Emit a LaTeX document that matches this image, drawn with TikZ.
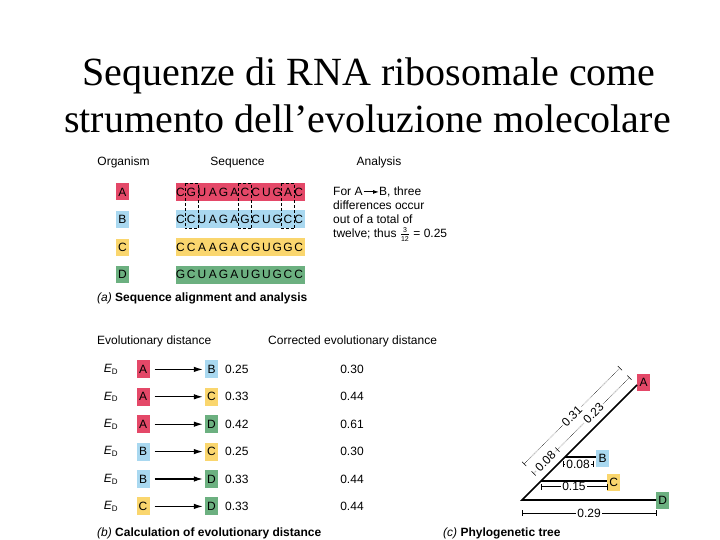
\documentclass[tikz,border=0pt]{standalone}
\usepackage{fontspec}
\setmainfont{Liberation Serif}
\setsansfont{Liberation Sans}
\usepackage{tikz}
\usetikzlibrary{arrows.meta,calc,positioning}

\definecolor{colA}{HTML}{E44868}
\definecolor{colB}{HTML}{A9D8F0}
\definecolor{colC}{HTML}{FAD66E}
\definecolor{colD}{HTML}{6CB080}

\tikzset{
  txt/.style={font=\sffamily\fontsize{12}{13.8}\selectfont, inner sep=0pt},
  org/.style={txt, fill=col#1, minimum width=13pt, minimum height=17pt},
  seqbar/.style={fill=col#1, minimum width=129pt, minimum height=18pt, inner sep=0pt},
  dim/.style={line width=0.5pt},
  lbl/.style={txt, fill=white, inner xsep=1.5pt, inner ysep=0pt},
}

\begin{document}
\begin{tikzpicture}[x=1pt,y=-1pt]
\useasboundingbox (0,0) rectangle (720,540);

\node[anchor=base, font=\fontsize{40}{40}\selectfont] (title1) at (369,86) {Sequenze di RNA ribosomale come};
\node[anchor=base, font=\fontsize{40}{40}\selectfont] (title2) at (367.5,133) {strumento dell'evoluzione molecolare};

% (a)
\node[txt, anchor=base] (hOrg) at (123.5,166) {Organism};
\node[txt, anchor=base] (hSeq) at (237.5,166) {Sequence};
\node[txt, anchor=base] (hAna) at (379,166) {Analysis};
\foreach \o/\seq [count=\k] in {A/{C,G,U,A,G,A,C,C,U,G,A,C}, B/{C,C,U,A,G,A,G,C,U,G,C,C}, C/{C,C,A,A,G,A,C,G,U,G,G,C}, D/{G,C,U,A,G,A,U,G,U,G,C,C}}{
  \node[org=\o] (org\o) at (122.5,164.5+27.5*\k) {\o};
  \node[seqbar=\o] (seq\o) at (240.5,164.5+27.5*\k) {};
  \foreach \l [count=\j] in \seq
    \node[txt, font=\sffamily\fontsize{12}{12}\selectfont] (let\o\j) at (169.75+10.75*\j,164.5+27.5*\k) {\l};
}
\foreach \j in {2,7,11}
  \draw[densely dashed, line width=0.4pt] ($(letA\j.center |- seqA.north)+(-6.5,0)$) rectangle ($(letB\j.center |- seqB.south)+(6.5,0)$);

\node[txt, anchor=base west] (forA) at (333,196) {For A};
\node[txt, anchor=base west] (bThree) at (379,196) {B, three};
\draw[-{Latex[length=6pt,width=4pt]}, line width=0.9pt, shorten <=1pt] (forA.east) -- (forA.east -| bThree.west);
\node[txt, anchor=base west, align=left] (ana) at (333,237) {differences occur\\out of a total of\\twelve; thus $\frac{\mbox{\fontsize{7}{7}\selectfont 3}}{\mbox{\fontsize{7}{7}\selectfont 12}}$ = 0.25};
\node[txt, anchor=base west] (capA) at (97,301) {\textit{(a)} \textbf{Sequence alignment and analysis}};

% (b)
\node[txt, anchor=base west] (hEvo) at (97,344) {Evolutionary distance};
\node[txt, anchor=base west] (hCor) at (268,344) {Corrected evolutionary distance};
\foreach \orgL/\orgR/\dist/\corr [count=\i] in {A/B/0.25/0.30, A/C/0.33/0.44, A/D/0.42/0.61, B/C/0.25/0.30, B/D/0.33/0.44, C/D/0.33/0.44}{
  \node[txt] (ed\i) at (111,342+27.4*\i) {\textit{E}\textsubscript{D}};
  \node[org=\orgL, minimum height=18pt] (from\i) at (143,342+27.4*\i) {\orgL};
  \node[org=\orgR, minimum height=18pt] (to\i) at (211.5,342+27.4*\i) {\orgR};
  \draw[-{Latex[length=9pt,width=5.5pt]}, line width=1.1pt, shorten <=5pt, shorten >=2pt] (from\i) -- (to\i);
  \node[txt, anchor=west] (val\i) at (225,342+27.4*\i) {\dist};
  \node[txt] (cor\i) at (352,342+27.4*\i) {\corr};
}
\node[txt, anchor=base west] (capB) at (97,536) {\textit{(b)} \textbf{Calculation of evolutionary distance}};

% (c)
\coordinate (root) at (522,500);
\coordinate (aEnd) at (637,385);
\coordinate (cJ) at ($(root)!0.165!(aEnd)$);
\coordinate (bJ) at ($(root)!0.374!(aEnd)$);
\node[org=A, anchor=west] (tA) at (637,382) {A};
\node[org=B, anchor=west] (tB) at (596,458) {B};
\node[org=C, anchor=west] (tC) at (607,482) {C};
\node[org=D, anchor=west] (tD) at (656,500) {D};
\draw[line width=1.6pt] (aEnd) -- (root) -- (tD.west);
\draw[line width=1.3pt] (cJ) -- (cJ -| tC.west);
\draw[line width=1.3pt] (bJ) -- (bJ -| tB.west);

\draw[dim, {Bar[width=6pt]}-{Bar[width=6pt]}] ($(root)+(0,13)$) -- node[lbl] {0.29} ($(root -| tD.west)+(0,13)$);
\draw[dim, {Bar[width=6pt]}-{Bar[width=6pt]}] ($(cJ)+(0,5.5)$) -- node[lbl] {0.15} ($(cJ -| tC.west)+(0,5.5)$);
\draw[dim, {Bar[width=6pt]}-{Bar[width=6pt]}] ($(bJ)+(-2,7)$) -- node[lbl] {0.08} ($(bJ -| tB.west)+(-3,7)$);
\draw[dim, densely dotted, {Bar[width=6pt]}-{Bar[width=6pt]}] ($(cJ)+(-17,-17)$) -- node[lbl, sloped] {0.31} ($(aEnd)+(-17,-17)$);
\draw[dim, densely dotted, {Bar[width=6pt]}-{Bar[width=6pt]}] ($(cJ)+(-7.5,-7.5)$) -- node[lbl, sloped] {0.08} ($(bJ)+(-7.5,-7.5)$);
\draw[dim, densely dotted, -{Bar[width=6pt]}] ($(bJ)+(-7.5,-7.5)$) -- node[lbl, sloped] {0.23} ($(aEnd)+(-7.5,-7.5)$);
\node[txt, anchor=base west] (capC) at (443,536) {\textit{(c)} \textbf{Phylogenetic tree}};
\end{tikzpicture}
\end{document}
